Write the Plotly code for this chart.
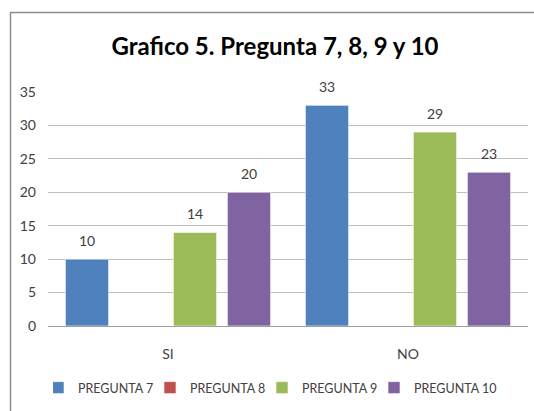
import plotly.graph_objects as go

categories = ["SI", "NO"]
series_names = ["PREGUNTA 7", "PREGUNTA 8", "PREGUNTA 9", "PREGUNTA 10"]
pregunta_7 = [10, 33]
pregunta_8 = [None, None]
pregunta_9 = [14, 29]
pregunta_10 = [20, 23]
colors = ["#4F81BD", "#C0504D", "#9BBB59", "#8064A2"]
y_ticks = [0, 5, 10, 15, 20, 25, 30, 35]

FONT = "Lato, sans-serif"
W, H = 534, 411
ML, MR, MT, MB = 48, 6, 92, 85
BARGAP = 0.1
BARGROUPGAP = 0.2

all_series = [pregunta_7, pregunta_8, pregunta_9, pregunta_10]

fig = go.Figure()
for name, vals, col in zip(series_names, all_series, colors):
    fig.add_trace(go.Bar(
        x=categories, y=vals, name=name,
        marker=dict(color=col, line=dict(color="rgba(255,255,255,0.6)", width=1)),
        hoverinfo="x+y+name",
    ))

pw = W - ML - MR
ph = H - MT - MB
def px_x(p):
    return (p - ML) / pw
def px_y(p):
    return (H - MB - p) / ph

# data labels above each bar, placed from the data values
n = len(all_series)
slot_px = pw / len(categories) * (1 - BARGAP) / n
annotations = []
for i, vals in enumerate(all_series):
    for cat, v in zip(categories, vals):
        if v is None:
            continue
        annotations.append(dict(
            x=cat, y=v, xref="x", yref="y", text=str(v), showarrow=False,
            xshift=(i - (n - 1) / 2) * slot_px, yshift=19, yanchor="middle",
            font=dict(family=FONT, size=14, color="#404040")))

fig.update_layout(
    width=W, height=H,
    margin=dict(l=ML, r=MR, t=MT, b=MB, autoexpand=False),
    paper_bgcolor="white", plot_bgcolor="white",
    barmode="group", bargap=BARGAP, bargroupgap=BARGROUPGAP,
    font=dict(family=FONT, size=14, color="#404040"),
    title=dict(text="<b>Grafico 5. Pregunta 7, 8, 9 y 10</b>",
               x=px_x(275), xanchor="center", xref="paper",
               y=1 - 47 / H, yanchor="middle",
               font=dict(family=FONT, size=24, color="black")),
    showlegend=True,
    legend=dict(orientation="h", x=px_x(53), xanchor="left",
                y=px_y(388), yanchor="middle",
                font=dict(family=FONT, size=12.5, color="#404040"),
                itemwidth=30, indentation=-15,
                entrywidth=82, entrywidthmode="pixels",
                traceorder="normal", bgcolor="rgba(0,0,0,0)"),
    xaxis=dict(showgrid=False, showline=True, linecolor="#A0A0A0", linewidth=1,
               ticks="", ticklabelstandoff=15,
               tickfont=dict(family=FONT, size=14, color="#404040")),
    yaxis=dict(range=[0, 35], tickvals=y_ticks, showgrid=True, gridcolor="#BFBFBF",
               gridwidth=1, zeroline=False, showline=False, ticks="",
               ticklabelstandoff=11,
               tickfont=dict(family=FONT, size=14, color="#404040")),
    annotations=annotations,
    shapes=[dict(type="rect", xref="paper", yref="paper",
                 x0=px_x(10.5), x1=px_x(545), y0=px_y(420), y1=px_y(12.5),
                 line=dict(color="#8C8C8C", width=1.5), layer="below")],
)

fig.write_html("out.html", config={"displayModeBar": False},
               post_script="document.body.style.margin='0px';")
